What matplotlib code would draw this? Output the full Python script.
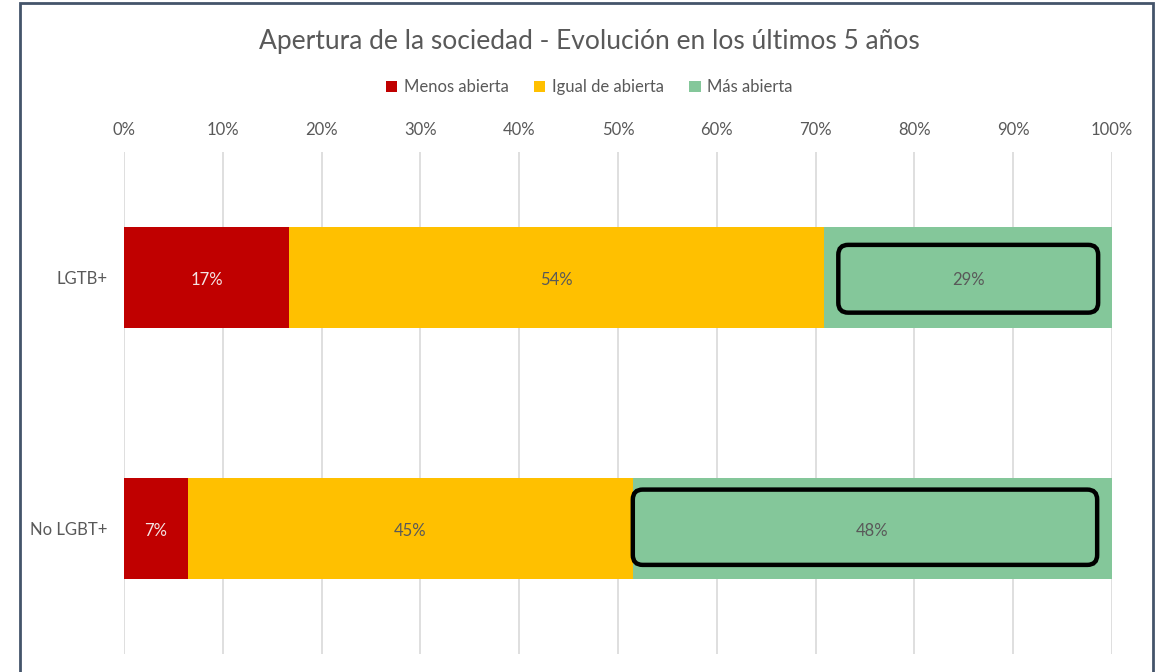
import matplotlib.pyplot as plt
import numpy as np
from matplotlib.patches import FancyBboxPatch, Rectangle

plt.rcParams["font.family"] = ["Lato", "DejaVu Sans"]

# datos (porcentaje)
grupos = ["LGTB+", "No LGBT+"]
series = ["Menos abierta", "Igual de abierta", "Más abierta"]
menos = [16.7, 6.5]
igual = [54.2, 45.0]
mas = [29.1, 48.5]
etiquetas = [["17%", "54%", "29%"], ["7%", "45%", "48%"]]
colores = ["#C00000", "#FFC000", "#84C79A"]
color_texto = ["#F4E4E4", "#595959", "#595959"]
ticks = np.arange(0, 101, 10)

# recuadros resaltados (inicio, fin, abajo, arriba) relativos a cada barra
resaltado = [(72.3, 98.6, -0.13, 0.14), (51.5, 98.5, -0.155, 0.145)]

fig = plt.figure(figsize=(11.6, 6.72), dpi=100)
ax = fig.add_axes([0.1069, 0.0268, 0.8517, 0.747])

y = np.arange(len(grupos))
izq = np.zeros(len(grupos))
for k, vals in enumerate([menos, igual, mas]):
    ax.barh(y, vals, left=izq, height=0.4, color=colores[k], label=series[k], zorder=2)
    for i in range(len(grupos)):
        ax.text(izq[i] + vals[i] / 2, y[i] + 0.01, etiquetas[i][k], ha="center", va="center",
                fontsize=12, color=color_texto[k], zorder=4)
    izq = izq + np.array(vals)

for i, (x0, x1, y0, y1) in enumerate(resaltado):
    box = FancyBboxPatch((x0, y[i] + y0), x1 - x0, y1 - y0,
                         boxstyle="round,pad=0,rounding_size=1.0",
                         mutation_aspect=0.0395, fill=False,
                         edgecolor="black", linewidth=3.2, zorder=3)
    ax.add_patch(box)

ax.set_xlim(0, 100)
ax.set_ylim(1.5, -0.5)
ax.set_xticks(ticks)
ax.set_xticklabels([f"{t}%" for t in ticks])
ax.set_yticks(y)
ax.set_yticklabels(grupos)
ax.xaxis.tick_top()
ax.tick_params(axis="both", length=0, labelsize=12, colors="#595959")
ax.tick_params(axis="x", pad=10)
ax.tick_params(axis="y", pad=12)
ax.grid(axis="x", color="#D9D9D9", linewidth=1.2, zorder=0)
for s in ax.spines.values():
    s.set_visible(False)

fig.text(0.508, 0.938, "Apertura de la sociedad - Evolución en los últimos 5 años",
         ha="center", va="center", fontsize=19, color="#595959")
fig.legend(loc="center", bbox_to_anchor=(0.508, 0.870), ncol=3, frameon=False,
           fontsize=12, labelcolor="#595959", handlelength=0.7, handleheight=0.7,
           handletextpad=0.4, columnspacing=1.5)

fig.patches.append(Rectangle((0.0172, -0.1), 0.9767, 1.0955, transform=fig.transFigure,
                             fill=False, edgecolor="#44546A", linewidth=2))

plt.savefig("out.png", dpi=100)
